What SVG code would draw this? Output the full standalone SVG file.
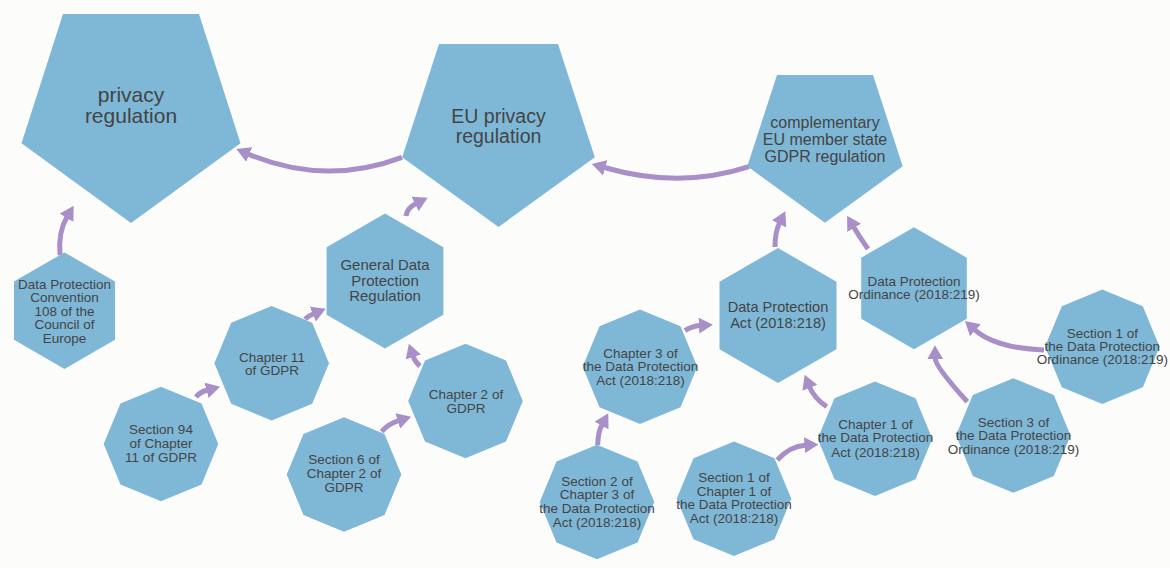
<svg xmlns="http://www.w3.org/2000/svg" width="1170" height="568" viewBox="0 0 1170 568">
<style>
.shape{fill:#7fb8d7;}
.t{font-family:"Liberation Sans",Arial,sans-serif;fill:#444;text-anchor:middle;}
.s{font-size:13.5px;}
.m{font-size:15px;}
.arr{fill:none;stroke:#a88fc8;stroke-width:5;marker-end:url(#ah);}
</style>
<defs>
<marker id="ah" markerUnits="userSpaceOnUse" markerWidth="14" markerHeight="16" viewBox="0 0 14 16" refX="1" refY="8" orient="auto">
<path d="M0,0 L14,8 L0,16 z" fill="#a88fc8"/>
</marker>
<polygon id="oct" points="0,-57.3 40.5,-40.5 57.3,0 40.5,40.5 0,57.3 -40.5,40.5 -57.3,0 -40.5,-40.5"/>
</defs>
<rect width="1170" height="568" fill="#fcfcfb"/>

<g id="connectors">
<path class="arr" d="M60,255 Q58,232 67,217"/>
<path class="arr" d="M402,157.3 Q325,186.3 248.3,154.1"/>
<path class="arr" d="M749,166.7 Q680,189.3 604.3,167.5"/>
<path class="arr" d="M406,216 Q407,208 416,203.5"/>
<path class="arr" d="M305,319 Q308,316 313.7,313.7"/>
<path class="arr" d="M196,397 Q200,392 207.5,390"/>
<path class="arr" d="M420,366 Q415,362 413,356"/>
<path class="arr" d="M381.7,431.7 Q388,424 398.7,420.7"/>
<path class="arr" d="M775,247 Q775,232 779.5,223"/>
<path class="arr" d="M868,249 Q859,236 853.7,227"/>
<path class="arr" d="M685,330.7 Q692,326 699.9,325.5"/>
<path class="arr" d="M597.7,445 Q598,432 602,424.7"/>
<path class="arr" d="M777.3,460 Q790,446 805.4,445.2"/>
<path class="arr" d="M826.7,406.7 Q814,398 809.5,386.9"/>
<path class="arr" d="M1044,350 Q995,348 974.6,329.6"/>
<path class="arr" d="M967.3,401.7 Q935.4,366.7 935.2,358.2"/>
</g>

<g id="privacy-regulation">
<polygon class="shape" points="63,14 199,14 240.5,143.3 131,223 21.5,143.3"/>
<text class="t" style="font-size:21px" x="131" y="102">privacy</text>
<text class="t" style="font-size:21px" x="131" y="123">regulation</text>
</g>

<g id="eu-privacy-regulation">
<polygon class="shape" points="439,44 558,44 594.8,157.2 498.5,227 402.2,157.2"/>
<text class="t" style="font-size:19.5px" x="498.5" y="123">EU privacy</text>
<text class="t" style="font-size:19.5px" x="498.5" y="143">regulation</text>
</g>

<g id="complementary">
<polygon class="shape" points="777,75 873,75 902.7,166.3 825,222.7 747.3,166.3"/>
<text class="t" style="font-size:16px" x="825" y="128">complementary</text>
<text class="t" style="font-size:16px" x="825" y="145">EU member state</text>
<text class="t" style="font-size:16px" x="825" y="162">GDPR regulation</text>
</g>

<g id="convention108">
<polygon class="shape" points="64.5,252.4 115,281.55 115,339.85 64.5,369 14,339.85 14,281.55"/>
<text class="t s" x="64.5" y="288.5">Data Protection</text>
<text class="t s" x="64.5" y="302">Convention</text>
<text class="t s" x="64.5" y="315.8">108 of the</text>
<text class="t s" x="64.5" y="329.4">Council of</text>
<text class="t s" x="64.5" y="343">Europe</text>
</g>

<g id="gdpr">
<polygon class="shape" points="385,213.6 443.4,247.3 443.4,314.7 385,348.4 326.6,314.7 326.6,247.3"/>
<text class="t m" x="385" y="270">General Data</text>
<text class="t m" x="385" y="285.7">Protection</text>
<text class="t m" x="385" y="301">Regulation</text>
</g>

<g id="dpa">
<polygon class="shape" points="778,248 836.5,281.75 836.5,349.25 778,383 719.5,349.25 719.5,281.75"/>
<text class="t" style="font-size:14.6px" x="778" y="312.3">Data Protection</text>
<text class="t" style="font-size:14.6px" x="778" y="327.6">Act (2018:218)</text>
</g>

<g id="dpo">
<polygon class="shape" points="914,227.2 966.8,257.7 966.8,318.7 914,349.2 861.2,318.7 861.2,257.7"/>
<text class="t s" x="914" y="285.7">Data Protection</text>
<text class="t s" x="914" y="298.9">Ordinance (2018:219)</text>
</g>

<g id="chapter11">
<use href="#oct" class="shape" x="271.7" y="363.3"/>
<text class="t s" x="272" y="361.7">Chapter 11</text>
<text class="t s" x="272" y="374.5">of GDPR</text>
</g>

<g id="section94">
<use href="#oct" class="shape" x="161" y="444"/>
<text class="t s" x="161" y="434.2">Section 94</text>
<text class="t s" x="161" y="448.2">of Chapter</text>
<text class="t s" x="161" y="462.2">11 of GDPR</text>
</g>

<g id="chapter2">
<use href="#oct" class="shape" x="465.5" y="401"/>
<text class="t s" x="466" y="399">Chapter 2 of</text>
<text class="t s" x="466" y="412.5">GDPR</text>
</g>

<g id="section6">
<use href="#oct" class="shape" x="344" y="474.5"/>
<text class="t s" x="344" y="464.2">Section 6 of</text>
<text class="t s" x="344" y="478.2">Chapter 2 of</text>
<text class="t s" x="344" y="492.2">GDPR</text>
</g>

<g id="chapter3dpa">
<use href="#oct" class="shape" x="640" y="366.7"/>
<text class="t s" x="640.5" y="357.5">Chapter 3 of</text>
<text class="t s" x="640.5" y="370.9">the Data Protection</text>
<text class="t s" x="640.5" y="384.9">Act (2018:218)</text>
</g>

<g id="section2ch3">
<use href="#oct" class="shape" x="597" y="502"/>
<text class="t s" x="597" y="485.6">Section 2 of</text>
<text class="t s" x="597" y="498.9">Chapter 3 of</text>
<text class="t s" x="597" y="513.2">the Data Protection</text>
<text class="t s" x="597" y="526.6">Act (2018:218)</text>
</g>

<g id="section1ch1">
<use href="#oct" class="shape" x="734" y="498.7"/>
<text class="t s" x="734" y="482.2">Section 1 of</text>
<text class="t s" x="734" y="495.6">Chapter 1 of</text>
<text class="t s" x="734" y="509.2">the Data Protection</text>
<text class="t s" x="734" y="523.2">Act (2018:218)</text>
</g>

<g id="chapter1dpa">
<use href="#oct" class="shape" x="875" y="438.8"/>
<text class="t s" x="875.5" y="428.9">Chapter 1 of</text>
<text class="t s" x="875.5" y="442.2">the Data Protection</text>
<text class="t s" x="875.5" y="456.6">Act (2018:218)</text>
</g>

<g id="section1dpo">
<use href="#oct" class="shape" x="1102.3" y="346.7"/>
<text class="t s" x="1102.3" y="337.6">Section 1 of</text>
<text class="t s" x="1102.3" y="350.9">the Data Protection</text>
<text class="t s" x="1102.3" y="364.2">Ordinance (2018:219)</text>
</g>

<g id="section3dpo">
<use href="#oct" class="shape" x="1013.3" y="435.5"/>
<text class="t s" x="1013.5" y="426.6">Section 3 of</text>
<text class="t s" x="1013.5" y="439.9">the Data Protection</text>
<text class="t s" x="1013.5" y="453.6">Ordinance (2018:219)</text>
</g>
</svg>
